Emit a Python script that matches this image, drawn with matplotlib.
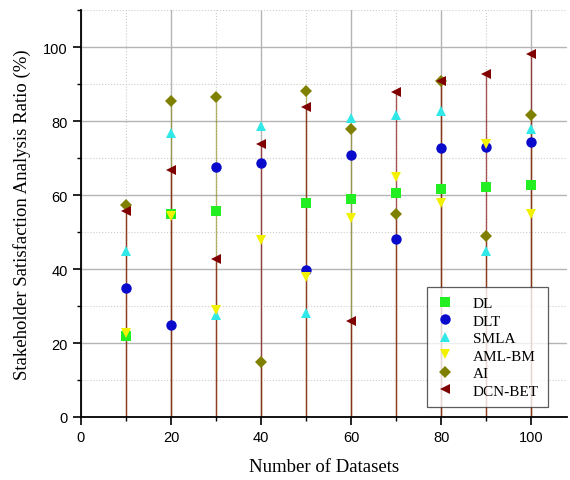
import numpy as np
import matplotlib
matplotlib.use("Agg")
import matplotlib.pyplot as plt
from matplotlib.ticker import MultipleLocator

x = [10, 20, 30, 40, 50, 60, 70, 80, 90, 100]
dl     = [21.8, 55.0, 55.8, np.nan, 57.8, 58.8, 60.6, 61.6, 62.3, 62.8]
dlt    = [35.0, 25.0, 67.5, 68.7, 39.8, 70.7, 48.0, 72.6, 72.9, 74.4]
smla   = [45.0, 76.7, 27.6, 78.6, 28.0, 80.8, 81.5, 82.6, 44.8, 77.8]
amlbm  = [22.6, 54.2, 29.0, 47.8, 37.8, 53.9, 64.8, 57.8, 73.8, 54.8]
ai     = [57.2, 85.3, 86.4, 14.9, 88.0, 77.8, 54.8, 90.8, 48.8, 81.6]
dcnbet = [55.8, 66.8, 42.8, 73.8, 83.8, 25.9, 87.8, 90.8, 92.8, 98.0]

series = [
    ("DL", dl, "#22ee22", "s"),
    ("DLT", dlt, "#0a0acc", "o"),
    ("SMLA", smla, "#30e8e8", "^"),
    ("AML-BM", amlbm, "#f2f200", "v"),
    ("AI", ai, "#808000", "D"),
    ("DCN-BET", dcnbet, "#800000", "<"),
]

fig = plt.figure(figsize=(5.7, 4.81), dpi=100)
ax = fig.add_axes([0.142, 0.131, 0.853, 0.846])

ax.set_xlim(0, 108)
ax.set_ylim(0, 110)
ax.xaxis.set_major_locator(MultipleLocator(20))
ax.xaxis.set_minor_locator(MultipleLocator(10))
ax.yaxis.set_major_locator(MultipleLocator(20))
ax.yaxis.set_minor_locator(MultipleLocator(10))
ax.grid(True, which="major", color="#b4b4b4", lw=1.0, ls="-")
ax.grid(True, which="minor", color="#cccccc", lw=0.8, ls=":")
ax.set_axisbelow(True)

# drop lines
ax.vlines(x, 0, ai, colors="#808000", lw=1.0, alpha=0.55, zorder=1.5)
ax.vlines(x, 0, dcnbet, colors="#800000", lw=1.0, alpha=0.65, zorder=1.6)

for name, vals, col, mk in series:
    ms = 6.5 if mk == "D" else 7.5
    ax.plot(x, vals, ls="none", marker=mk, color=col, markersize=ms,
            markeredgewidth=0, label=name, zorder=3)

for s in ["top", "right"]:
    ax.spines[s].set_visible(False)
for s in ["left", "bottom"]:
    ax.spines[s].set_linewidth(1.3)
    ax.spines[s].set_color("black")

ax.tick_params(which="major", direction="out", length=6, width=1.2,
               labelsize=10.5, colors="black")
ax.tick_params(which="minor", direction="out", length=3, width=1.0)
for lab in ax.get_xticklabels() + ax.get_yticklabels():
    lab.set_family("Liberation Sans")

ax.set_xlabel("Number of Datasets", family="Liberation Serif", fontsize=13.5, labelpad=10)
ax.set_ylabel("Stakeholder Satisfaction Analysis Ratio (%)", family="Liberation Serif",
              fontsize=13.5, labelpad=9)

leg = ax.legend(loc="lower right", bbox_to_anchor=(0.96, 0.025),
                prop={"family": "Liberation Serif", "size": 11},
                frameon=True, fancybox=False, edgecolor="#333333",
                handletextpad=1.2, labelspacing=0.25, borderpad=0.6,
                handlelength=1.2, borderaxespad=0)
leg.get_frame().set_linewidth(0.9)

fig.savefig("out.png", dpi=100)
